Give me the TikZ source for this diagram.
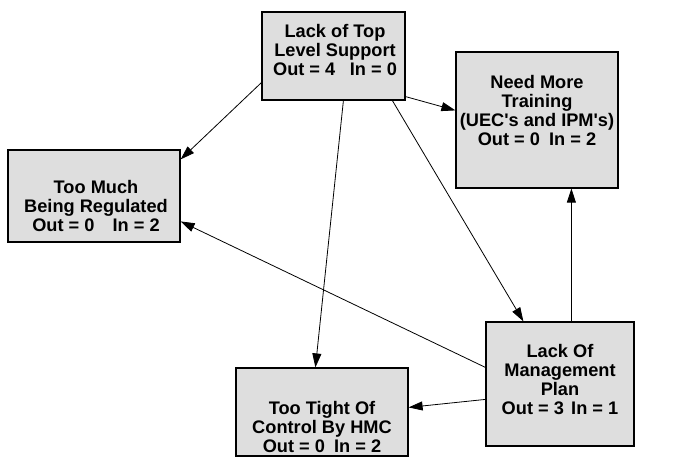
\documentclass[tikz,border=0pt]{standalone}
\usepackage{fontspec}
\newfontfamily\lblfont{Liberation Sans}
\usetikzlibrary{arrows.meta}
\tikzset{
  box/.style={draw=black, line width=1.2pt, fill=black!13, inner sep=0pt},
  lbl/.style={align=center, font=\lblfont\fontsize{18.2}{19}\selectfont\bfseries, inner sep=0pt},
  link/.style={line width=0.8pt, -{Triangle[length=14pt,width=9pt]}}
}
\begin{document}
\begin{tikzpicture}[x=1pt,y=-1pt]
\useasboundingbox (0,0) rectangle (674,464);
% boxes
\node[box, minimum width=143pt, minimum height=88pt]  (b1) at (333.5,56) {};
\node[box, minimum width=162pt, minimum height=136pt] (b2) at (537,120) {};
\node[box, minimum width=172pt, minimum height=92pt]  (b3) at (94,196) {};
\node[box, minimum width=148pt, minimum height=124pt] (b4) at (560,384) {};
\node[box, minimum width=172pt, minimum height=88pt]  (b5) at (322,412) {};
% labels
\node[lbl] (t1) at (335,50)  {Lack of Top\\Level Support\\Out = 4\hspace{0.8em}In = 0};
\node[lbl] (t2) at (537,110) {Need More\\Training\\(UEC's and IPM's)\\Out = 0\hspace{0.5em}In = 2};
\node[lbl] (t3) at (96,206)  {Too Much\\Being Regulated\\Out = 0\hspace{1em}In = 2};
\node[lbl] (t4) at (560,379) {Lack Of\\Management\\Plan\\Out = 3\hspace{0.4em}In = 1};
\node[lbl] (t5) at (322,427) {Too Tight Of\\Control By HMC\\Out = 0\hspace{0.5em}In = 2};
% connectors
\draw[link] ([yshift=18pt]b1.south west) -- ([yshift=-10pt]b3.north east);
\draw[link] ([yshift=4pt]b1.south east) -- ([yshift=-59pt]b2.north west);
\draw[link] ([xshift=82pt]b1.south west) -- ([xshift=80pt]b5.north west);
\draw[link] ([xshift=131pt]b1.south west) -- ([xshift=38pt]b4.north west);
\draw[link] ([xshift=86pt]b4.north west) -- ([xshift=116pt]b2.south west);
\draw[link] ([yshift=-46pt]b4.north west) -- ([yshift=-72pt]b3.north east);
\draw[link] ([yshift=-78pt]b4.north west) -- ([yshift=-40pt]b5.north east);
\end{tikzpicture}
\end{document}
